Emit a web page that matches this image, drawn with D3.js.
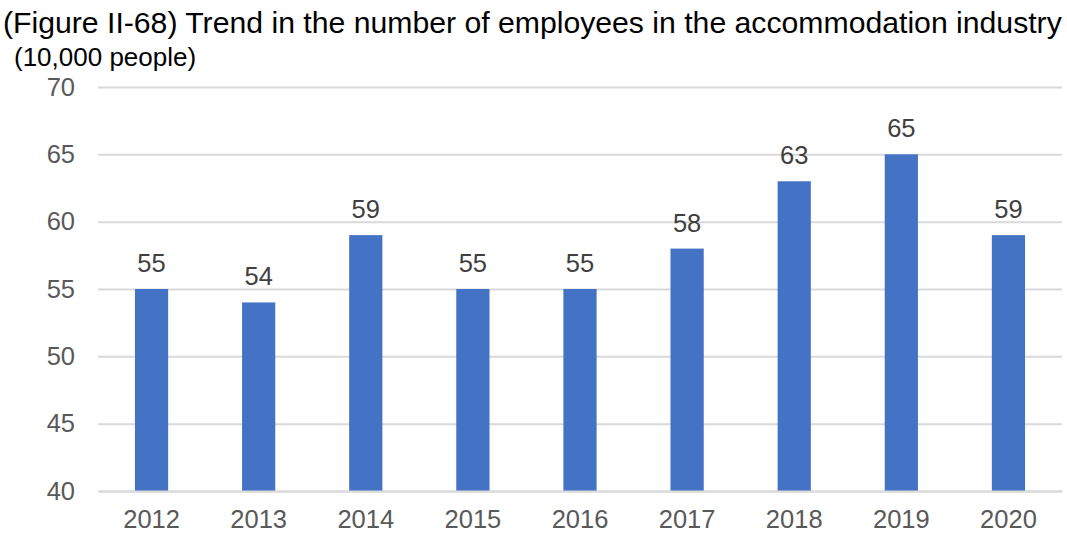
<!DOCTYPE html>
<html><head><meta charset="utf-8">
<script src="https://cdn.jsdelivr.net/npm/d3@7"></script>
<style>body{margin:0;background:#fff;} svg{display:block;font-family:"Liberation Sans",Arial,sans-serif;}</style>
</head><body>
<svg id="c" width="1067" height="542"></svg>
<script>
const years = ["2012","2013","2014","2015","2016","2017","2018","2019","2020"];
const employees = [55,54,59,55,55,58,63,65,59];
const yTicks = [40,45,50,55,60,65,70];
const title = "(Figure II-68) Trend in the number of employees in the accommodation industry";
const unitLabel = "(10,000 people)";

(function(){
const svg = d3.select("#c");
const mLeft = 98, mRight = 1062, mTop = 87, mBottom = 491;
const fs = 25.5;
const x = d3.scaleBand().domain(years).range([mLeft, mRight]).paddingInner(0.69).paddingOuter(0.345);
const y = d3.scaleLinear().domain([40,70]).range([mBottom, mTop]);

svg.append("text").attr("x", 3).attr("y", 33).attr("font-size", 30.2).attr("fill", "#000").text(title);
svg.append("text").attr("x", 14).attr("y", 66).attr("font-size", 26).attr("fill", "#000").text(unitLabel);

const gy = svg.append("g").attr("transform", `translate(${mLeft},0)`)
  .call(d3.axisLeft(y).tickValues(yTicks).tickSize(-(mRight-mLeft)).tickPadding(23));
gy.select(".domain").remove();
gy.selectAll(".tick line").attr("stroke", "#d9d9d9").attr("stroke-width", 2);
gy.selectAll(".tick text").attr("font-size", fs).attr("fill", "#595959").attr("font-family", "Liberation Sans, Arial, sans-serif");

svg.append("g").selectAll("rect").data(years).join("rect")
  .attr("x", d => x(d)).attr("width", x.bandwidth())
  .attr("y", (d,i) => y(employees[i])).attr("height", (d,i) => mBottom - y(employees[i]))
  .attr("fill", "#4472c4");

svg.append("g").selectAll("text").data(years).join("text")
  .attr("x", d => x(d) + x.bandwidth()/2).attr("y", (d,i) => y(employees[i]) - 17)
  .attr("text-anchor", "middle").attr("font-size", fs).attr("fill", "#404040")
  .text((d,i) => employees[i]);

const gx = svg.append("g").attr("transform", `translate(0,${mBottom})`)
  .call(d3.axisBottom(x).tickSize(0).tickPadding(19));
gx.select(".domain").attr("stroke", "#d9d9d9").attr("stroke-width", 2);
gx.selectAll(".tick text").attr("font-size", fs).attr("fill", "#595959").attr("font-family", "Liberation Sans, Arial, sans-serif");
})();
</script>
</body></html>
